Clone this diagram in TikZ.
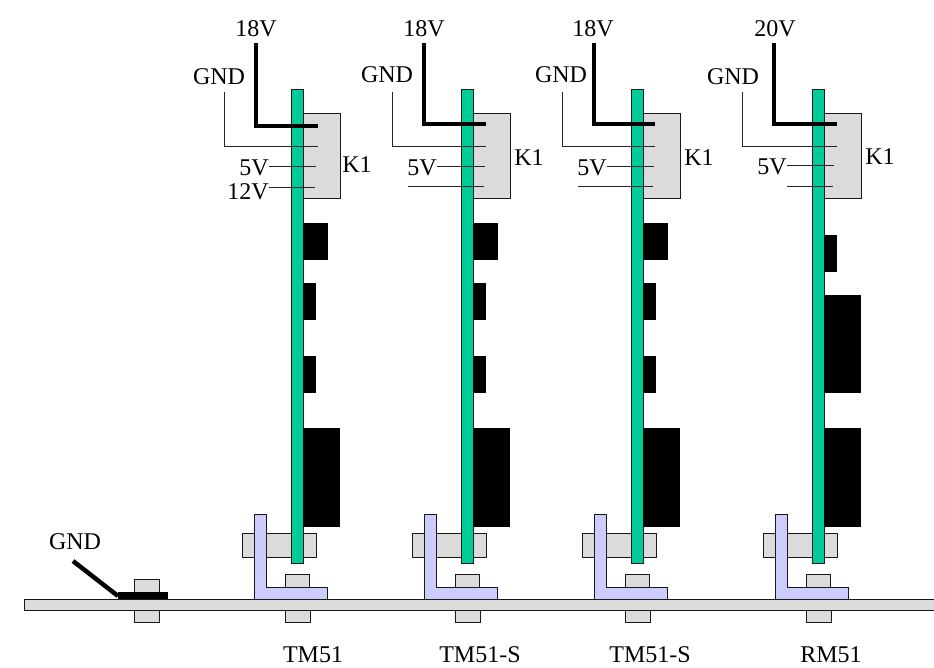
\documentclass[tikz,border=0pt]{standalone}
\usepackage{fontspec}
\setmainfont{Liberation Serif}
\definecolor{boardgreen}{RGB}{0,204,153}
\definecolor{bracketblue}{RGB}{204,204,255}
\tikzset{
  x=1pt,y=-1pt,
  part/.style={draw=black!90,line width=1pt},
  gray part/.style={part,fill=black!14},
  board/.style={part,fill=boardgreen},
  bracket/.style={part,fill=bracketblue,line join=miter},
  chip/.style={fill=black},
  thin wire/.style={draw=black!85,line width=1pt},
  power wire/.style={draw=black,line width=3.5pt},
  lbl/.style={font=\fontsize{24}{24}\selectfont,inner sep=0pt,text=black}
}
\begin{document}
\begin{tikzpicture}
\useasboundingbox (0,0) rectangle (934,668);
\foreach \i/\o/\nm/\nx in {1/0/TM51/313, 2/170/TM51-S/480, 3/340/TM51-S/650, 4/521/RM51/831}{
  \begin{scope}[shift={(\o,0)}]
    \draw[gray part] (242,533) rectangle (316,557);
    \draw[gray part] (285,574) rectangle (309,587);
    \draw[gray part] (285,610) rectangle (310,622);
    \draw[gray part] (303,114) rectangle (340,199);
    \draw[board] (291,90) rectangle (303,563);
    \draw[bracket] (254,514) -- (266,514) -- (266,587) -- (327,587) -- (327,599) -- (254,599) -- cycle;
  \end{scope}
  \node[lbl] (name\i) at (\nx,655) {\nm};
}
\foreach \o in {0,170,340}{
  \begin{scope}[shift={(\o,0)}]
    \fill[chip] (303,223) rectangle (328,260);
    \fill[chip] (303,283) rectangle (316,320);
    \fill[chip] (303,356) rectangle (316,393);
    \fill[chip] (303,428) rectangle (340,527);
  \end{scope}
}
\fill[chip] (824,235) rectangle (837,272);
\fill[chip] (824,295) rectangle (861,393);
\fill[chip] (824,428) rectangle (861,527);
\draw[gray part] (24,599) rectangle (945,610);
\draw[gray part] (134,579) rectangle (159,592);
\draw[gray part] (134,610) rectangle (159,622);
\fill[chip] (118,592) rectangle (168,599);
\node[lbl] (v1) at (256,29) {18V};
\node[lbl] (v2) at (424,29) {18V};
\node[lbl] (v3) at (593,29) {18V};
\node[lbl] (v4) at (775,29) {20V};
\node[lbl] (g1) at (219,77) {GND};
\node[lbl] (g2) at (387,75) {GND};
\node[lbl] (g3) at (561,75) {GND};
\node[lbl] (g4) at (733,77) {GND};
\node[lbl] (k1) at (357,165) {K1};
\node[lbl] (k2) at (529,158) {K1};
\node[lbl] (k3) at (699,158) {K1};
\node[lbl] (k4) at (880,157) {K1};
\node[lbl,anchor=east] (fa) at (269,168) {5V};
\node[lbl,anchor=east] (fb) at (437,168) {5V};
\node[lbl,anchor=east] (fc) at (607,168) {5V};
\node[lbl,anchor=east] (fd) at (787,167) {5V};
\node[lbl,anchor=east] (tw) at (269,192) {12V};
\node[lbl] (gndbase) at (75,542) {GND};
\foreach \n/\x/\gx/\px/\y in {1/256/224/318/126, 2/424/392/486/124, 3/594/562/655/124, 4/774/742/837/124}{
  \coordinate (p\n) at (\x,43);
  \coordinate (pe\n) at (\px,\y);
  \coordinate (gs\n) at (\gx,92);
  \coordinate (ge\n) at (\px,147);
  \draw[power wire] (p\n) |- (pe\n);
  \draw[thin wire] (gs\n) |- (ge\n);
}
\coordinate (a1) at (316,167); \coordinate (a2) at (485,167);
\coordinate (a3) at (654,167); \coordinate (a4) at (834,166);
\draw[thin wire] (fa.east |- a1) -- (a1);
\draw[thin wire] (fb.east |- a2) -- (a2);
\draw[thin wire] (fc.east |- a3) -- (a3);
\draw[thin wire] (fd.east |- a4) -- (a4);
\coordinate (b0) at (269,188);
\coordinate (b1) at (315,188);
\draw[thin wire] (b0) -- (b1);
\foreach \n/\s/\e in {2/408/484,3/578/653,4/787/833}{
  \coordinate (cs\n) at (\s,187); \coordinate (ce\n) at (\e,187);
  \draw[thin wire] (cs\n) -- (ce\n);
}
\coordinate (lug) at (118,596);
\coordinate (wireend) at (73,561);
\draw[power wire,line width=4.5pt] (wireend) -- (lug);
\end{tikzpicture}
\end{document}
